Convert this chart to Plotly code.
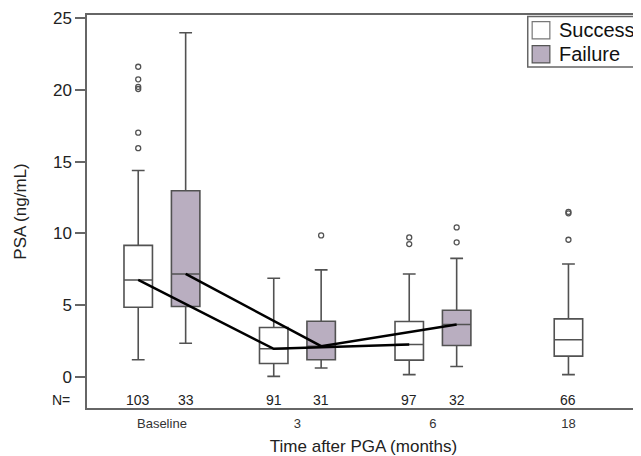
import plotly.graph_objects as go

# ---------------- data ----------------
groups = ["Baseline", "3", "6", "18"]
series_names = ["Success", "Failure"]

success_q1 = [4.86, 0.95, 1.18, 1.46]
success_median = [6.76, 1.97, 2.27, 2.60]
success_q3 = [9.17, 3.45, 3.87, 4.05]
success_low = [1.21, 0.05, 0.17, 0.17]
success_high = [14.38, 6.88, 7.18, 7.87]
success_n = [103, 91, 97, 66]
success_outliers = [[21.6, 20.72, 20.2, 20.05, 17.01, 15.93], [], [9.72, 9.26], [11.5, 11.4, 9.56]]

failure_groups = ["Baseline", "3", "6"]
failure_q1 = [4.91, 1.21, 2.20]
failure_median = [7.18, 2.15, 3.66]
failure_q3 = [12.97, 3.89, 4.65]
failure_low = [2.36, 0.63, 0.74]
failure_high = [23.96, 7.46, 8.26]
failure_n = [33, 31, 32]
failure_outliers = [[], [9.86], [10.42, 9.38]]

y_ticks = [0, 5, 10, 15, 20, 25]

# ---------------- layout helpers ----------------
OFF = 0.175
BOXW = 0.21
FONT = "Liberation Sans, Arial, sans-serif"
LINE = "#525252"
FAIL_FILL = "#b9aec0"
N_ROW = -1.6

def gidx(g):
    return groups.index(g)

success_x = [gidx(g) - (OFF if g in failure_groups else 0) for g in groups]
failure_x = [gidx(g) + OFF for g in failure_groups]

fig = go.Figure()

fig.add_trace(go.Box(
    x=success_x, q1=success_q1, median=success_median, q3=success_q3,
    lowerfence=success_low, upperfence=success_high,
    width=BOXW, whiskerwidth=0.45, fillcolor="white",
    line=dict(color=LINE, width=1.6), boxpoints=False, name=series_names[0],
    showlegend=False, hoverinfo="skip"))

fig.add_trace(go.Box(
    x=failure_x, q1=failure_q1, median=failure_median, q3=failure_q3,
    lowerfence=failure_low, upperfence=failure_high,
    width=BOXW, whiskerwidth=0.45, fillcolor=FAIL_FILL,
    line=dict(color=LINE, width=1.6), boxpoints=False, name=series_names[1],
    showlegend=False, hoverinfo="skip"))

# outliers
ox, oy = [], []
for x, outs in zip(success_x, success_outliers):
    ox += [x] * len(outs)
    oy += outs
for x, outs in zip(failure_x, failure_outliers):
    ox += [x] * len(outs)
    oy += outs
fig.add_trace(go.Scatter(
    x=ox, y=oy, mode="markers", showlegend=False, hoverinfo="skip",
    marker=dict(symbol="circle-open", size=5, color=LINE, line=dict(width=1.3, color=LINE))))

# median connecting lines (success: groups that also have failure, failure: all)
conn = [g for g in groups if g in failure_groups]
fig.add_trace(go.Scatter(
    x=[success_x[gidx(g)] for g in conn], y=[success_median[gidx(g)] for g in conn],
    mode="lines", line=dict(color="black", width=2.5), showlegend=False, hoverinfo="skip"))
fig.add_trace(go.Scatter(
    x=failure_x, y=failure_median,
    mode="lines", line=dict(color="black", width=2.5), showlegend=False, hoverinfo="skip"))

# N row
for x, n in zip(success_x, success_n):
    fig.add_annotation(x=x, y=N_ROW, text=str(n), showarrow=False,
                       font=dict(size=14, color="#222", family=FONT))
for x, n in zip(failure_x, failure_n):
    fig.add_annotation(x=x, y=N_ROW, text=str(n), showarrow=False,
                       font=dict(size=14, color="#222", family=FONT))
fig.add_annotation(xref="paper", x=-0.027, y=N_ROW, text="N=", showarrow=False,
                   xanchor="right", font=dict(size=14, color="#222", family=FONT))

# custom legend (paper coords, plot area is 553 x 393 px)
fig.add_shape(type="rect", xref="paper", yref="paper", x0=0.797, x1=0.995, y0=0.868, y1=0.996,
              line=dict(color="#666", width=1.5), fillcolor="white", layer="above")
fig.add_shape(type="rect", xref="paper", yref="paper", x0=0.805, x1=0.837, y0=0.939, y1=0.983,
              line=dict(color="#777", width=1.2), fillcolor="white", layer="above")
fig.add_shape(type="rect", xref="paper", yref="paper", x0=0.805, x1=0.837, y0=0.878, y1=0.922,
              line=dict(color="#555", width=1.2), fillcolor=FAIL_FILL, layer="above")
fig.add_annotation(xref="paper", yref="paper", x=0.850, y=0.963, text=series_names[0],
                   showarrow=False, xanchor="left", yanchor="middle",
                   font=dict(size=20, color="#111", family=FONT))
fig.add_annotation(xref="paper", yref="paper", x=0.850, y=0.901, text=series_names[1],
                   showarrow=False, xanchor="left", yanchor="middle",
                   font=dict(size=20, color="#111", family=FONT))

# page body has an 8px margin; size the figure so it fills the 641x456 window
fig.update_layout(
    width=633, height=448,
    margin=dict(l=79, r=1, t=7, b=48),
    paper_bgcolor="white", plot_bgcolor="white",
    boxmode="overlay", showlegend=False,
    font=dict(family=FONT, color="#222"),
)
fig.update_xaxes(
    range=[-0.553, 3.528], tickmode="array",
    tickvals=list(range(len(groups))), ticktext=groups,
    ticks="outside", ticklen=3, tickcolor="rgba(0,0,0,0)",
    tickfont=dict(size=13, color="#333", family=FONT),
    showline=True, linecolor="#666", linewidth=1.5, mirror=True,
    showgrid=False, zeroline=False, automargin=False,
    title=dict(text="Time after PGA (months)", font=dict(size=17, color="#222", family=FONT), standoff=14),
)
fig.update_yaxes(
    range=[-2.15, 25.2], tickmode="array", tickvals=y_ticks,
    ticks="outside", ticklen=10, tickcolor="#666", tickwidth=1.5,
    tickfont=dict(size=17, color="#222", family=FONT), ticklabeloverflow="allow",
    showline=True, linecolor="#666", linewidth=1.5, mirror=True,
    showgrid=False, zeroline=False, automargin=False,
    title=dict(text="PSA (ng/mL)", font=dict(size=17, color="#222", family=FONT), standoff=22),
)

fig.write_html("out.html")
